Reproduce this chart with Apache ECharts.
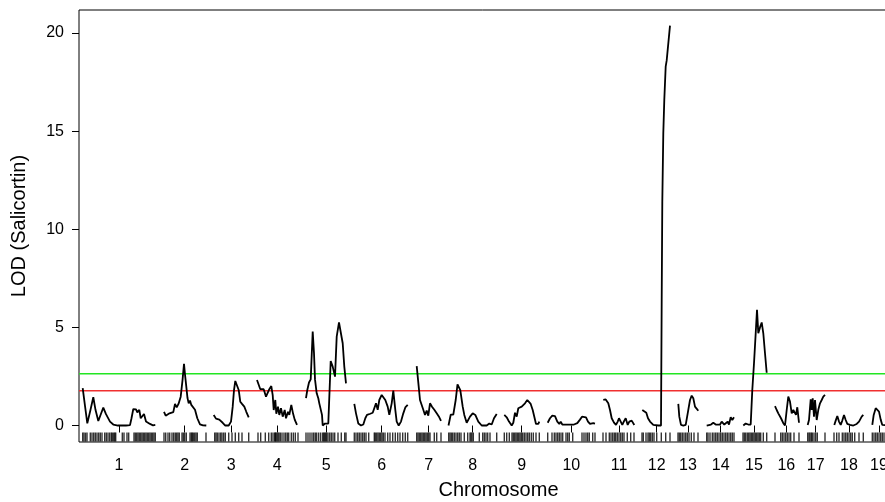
<!DOCTYPE html>
<html>
<head>
<meta charset="utf-8">
<title>LOD (Salicortin)</title>
<script src="https://cdn.jsdelivr.net/npm/echarts@6.0.0/dist/echarts.min.js"></script>
<style>
  html, body { margin: 0; padding: 0; background: #fff; }
  #chart { width: 885px; height: 502px; }
</style>
</head>
<body>
<div id="chart"></div>
<script>
// chromosome names and their mid positions on the genome axis
const chrNames = ['1', '2', '3', '4', '5', '6', '7', '8', '9', '10', '11', '12', '13', '14', '15', '16', '17', '18', '19']
const chrMid = [119, 184.7, 231.3, 277.3, 326.3, 381.7, 428.7, 472.7, 521.7, 571.3, 619, 656.7, 688, 720.7, 754, 786.3, 815.7, 849, 879]

// LOD profile per chromosome: [position, LOD]
const lod1 = [[82.7, 1.9], [85, 1.0], [87.3, 0.11], [90.5, 0.8], [93.3, 1.44], [95.5, 0.8], [98.3, 0.23], [101, 0.6], [103.3, 0.91], [106, 0.58], [107.7, 0.6], [110, 0.2], [113.3, 0.05], [118, 0], [122, 0.01], [126, 0], [130, 0.02], [131.5, 0.37], [133.3, 0.84], [136, 0.82], [137.3, 0.67], [139.3, 0.8], [140.7, 0.37], [144, 0.59], [146, 0.2], [150, 0.08], [153, 0.01], [155.3, 0.03]]
const lod2 = [[164, 0.7], [165.7, 0.5], [167.5, 0.45], [169.5, 0.62], [171.5, 0.55], [173.3, 0.68], [175, 1.1], [176.7, 0.92], [178.5, 1.1], [180.7, 1.47], [182.5, 2.3], [184, 3.14], [185, 2.6], [186.3, 1.98], [187.5, 1.4], [188.7, 1.13], [190, 1.27], [191.3, 1.05], [192.3, 1.15], [193.3, 0.95], [195, 0.8], [197.3, 0.37], [200, 0.06], [203, 0.01], [206.3, 0]]
const lod3 = [[213.7, 0.54], [216, 0.35], [218, 0.45], [219.3, 0.3], [221.3, 0.4], [222.7, 0.14], [225.3, 0], [228.7, 0], [231, 0.2], [232.7, 0.96], [234, 1.8], [235.3, 2.27], [237, 2.2], [238.7, 1.81], [240.3, 1.21], [242, 1.1], [244.3, 0.96], [246.3, 0.7], [248.7, 0.42]]
const lod4 = [[257, 2.32], [258.7, 2.35], [260.3, 1.85], [262, 1.82], [263.7, 1.85], [266, 1.47], [268, 1.7], [269.3, 1.85], [271.3, 2.01], [272.7, 1.55], [273.7, 0.79], [275.3, 1.3], [276.3, 0.6], [278, 0.96], [279.3, 0.54], [281, 0.88], [282.7, 0.45], [284.7, 0.79], [286, 0.37], [288, 0.7], [289.3, 0.54], [291.3, 1.05], [293, 0.62], [294.7, 0.3], [297, 0.03]]
const lod5 = [[306, 1.39], [307.3, 1.81], [309, 2.19], [310.7, 2.35], [311.7, 2.4], [312.7, 4.79], [314, 3.68], [315, 2.35], [316.7, 1.64], [318.3, 1.39], [319.3, 1.13], [320.7, 1.21], [322, 0.54], [322.7, 0], [325, 0.1], [326.7, 0], [328.3, 0.1], [330, 0], [330.7, 3.29], [332.7, 3.0], [335, 2.49], [336.7, 4.53], [339, 5.25], [340.7, 5.2], [342.7, 4.19], [344.3, 3.0], [346, 2.15]]
const lod6 = [[354.3, 1.1], [356, 0.62], [358.3, 0.1], [361, 0], [363.3, 0.05], [365.3, 0.37], [367, 0.54], [368.7, 0.45], [370.3, 0.6], [372.7, 0.65], [374.7, 0.65], [376, 1.13], [377.7, 0.8], [379.3, 1.3], [381.7, 1.56], [383.3, 1.6], [385.3, 1.3], [387.7, 0.96], [389.3, 0.54], [391.7, 1.13], [393.3, 1.78], [395.3, 0.8], [396.7, 0.2], [398.7, 0], [401, 0.2], [403.3, 0.62], [405.3, 0.92], [407.7, 1.05]]
const lod7 = [[416.7, 3.03], [418.7, 1.98], [420, 1.3], [421.7, 1.33], [423.3, 0.8], [425, 0.54], [426.7, 0.76], [428.3, 0.5], [430, 1.13], [432, 0.96], [434.3, 0.8], [436.7, 0.62], [439.3, 0.42], [441, 0.24]]
const lod8 = [[448.5, 0], [450.7, 0.55], [453.3, 0.55], [455.7, 1.3], [457.5, 2.1], [458.5, 2.15], [460.3, 1.8], [462.7, 0.96], [464.3, 0.54], [466.7, 0.14], [468, 0.2], [470, 0.45], [472.7, 0.62], [475.3, 0.54], [478.3, 0.2], [481.7, 0], [486.7, 0], [489.3, 0.1], [491.7, 0.05], [494, 0.37], [496.7, 0.59]]
const lod9 = [[504.3, 0.54], [506.7, 0.42], [509, 0.2], [511.7, 0], [513.3, 0.14], [515, 0.65], [516.7, 0.45], [518.3, 0.88], [520, 0.8], [521.7, 0.96], [523.3, 0.93], [525, 1.13], [527.3, 1.3], [529.3, 1.27], [530.7, 1.1], [532.7, 0.79], [534.3, 0.45], [536, 0.08], [538.3, 0.08], [539.3, 0.2]]
const lod10 = [[547.7, 0.14], [550, 0.37], [552.3, 0.5], [555, 0.48], [557.3, 0.2], [559.3, 0.08], [560.7, 0.2], [562.3, 0.05], [564, 0.08], [566, 0.05], [568, 0.12], [570.7, 0.05], [574, 0.05], [577.3, 0.12], [580, 0.3], [582, 0.45], [584, 0.54], [586, 0.42], [588, 0.2], [590, 0.08], [592, 0.04], [593.3, 0.12], [595, 0.1]]
const lod11 = [[603.3, 1.3], [605.7, 1.33], [608.3, 1.13], [610, 0.79], [611.7, 0.37], [614, 0.15], [616, 0.03], [617.7, 0.2], [619, 0.37], [620.7, 0.2], [622.3, 0.03], [624.3, 0.25], [625.7, 0.37], [627.7, 0.03], [629.3, 0.2], [631.7, 0.25], [634.3, 0.03]]
const lod12 = [[642.3, 0.79], [644, 0.88], [646.3, 0.65], [648, 0.37], [650, 0.2], [651.7, 0.28], [653.3, 0.03], [655, 0], [658.3, 0], [661, 0], [661.7, 6.4], [662.3, 11.4], [663.3, 14.9], [664.3, 16.6], [665.7, 18.3], [666.7, 18.6], [670, 20.37]]
const lod13 = [[678.3, 1.1], [679.3, 0.45], [681, 0.03], [683.3, 0], [685.7, 0.03], [687.7, 0.62], [690, 1.3], [691.7, 1.52], [693.3, 1.39], [695, 0.96], [698.3, 0.75]]
const lod14 = [[706.7, 0], [708.3, 0.1], [711, 0.05], [713.3, 0.14], [715.7, 0.05], [717.7, 0.14], [720, 0.05], [721.7, 0.2], [724.3, 0.05], [725.7, 0.14], [727.7, 0.2], [729, 0.05], [730.7, 0.42], [732.3, 0.28], [734, 0.42]]
const lod15 = [[743.3, 0], [745.7, 0.1], [748.3, 0.05], [750.7, 0.05], [752.3, 1.81], [754, 3.17], [755.7, 4.7], [757, 5.89], [758.3, 4.7], [760, 5.0], [761.7, 5.25], [763.3, 4.7], [765, 3.68], [766.7, 2.69]]
const lod16 = [[775, 0.99], [776.7, 0.79], [778.3, 0.62], [781, 0.37], [783.3, 0.12], [785, 0], [786.7, 0.79], [788.3, 1.47], [790, 1.22], [791.7, 0.62], [793.3, 0.79], [795, 0.88], [796, 0.54], [797.3, 0.93], [799, 0.14]]
const lod17 = [[807.7, 0.03], [809, 0.28], [810.7, 1.34], [811.7, 0.8], [812.7, 1.38], [814, 0.45], [815, 1.3], [816.7, 0.28], [818.3, 0.8], [820, 1.13], [821.7, 1.3], [823.3, 1.47], [825, 1.56]]
const lod18 = [[834.3, 0.03], [835.7, 0.25], [837.3, 0.48], [839, 0.2], [840.7, 0.03], [842.3, 0.25], [844, 0.54], [845.7, 0.28], [847.3, 0.08], [850, 0.03], [853.3, 0], [856.7, 0.08], [859, 0.2], [861.7, 0.45], [863.3, 0.54]]
const lod19 = [[872.3, 0.03], [873.7, 0.54], [875.7, 0.88], [877.3, 0.93], [879, 0.71], [880.7, 0.3], [882.3, 0.03], [884.3, 0], [886, 0.02]]

const lodByChr = [lod1, lod2, lod3, lod4, lod5, lod6, lod7, lod8, lod9, lod10, lod11, lod12, lod13, lod14, lod15, lod16, lod17, lod18, lod19]

// marker positions (rug)
const markers = [
  82.7, 84, 85.5, 87, 90.3, 92, 93.7, 95.3, 97, 98.7, 100.3, 102, 104.7, 106.3, 108, 109.7, 111.3, 112.3, 113.7, 114.7, 115.7, 122.3, 124, 127, 128.7, 134, 135.3, 136.7, 138, 139.3, 140.7, 142, 143.3, 144.7, 146, 147.3, 148.7, 150, 151.3, 152.7, 154, 155.3,
  164, 165.7, 168, 169.7, 172, 173.7, 175.3, 176.7, 178, 179.3, 182, 183.3, 184.7, 186.3, 190, 191.3, 192.3, 193.3, 194.7, 196, 197.3, 206,
  214.7, 216, 217.3, 219, 220.7, 222, 223.7, 225.3, 228.7, 232, 235.3, 238.7, 242, 248.7,
  258, 260.7, 265.3, 268.7, 271.3, 273, 274.7, 275.3, 276, 277, 278, 279, 280.3, 282, 284, 285.7, 287.3, 288.7, 291.3, 293.3, 295.3, 298,
  306, 308, 310, 312, 313.7, 315.3, 316.7, 318.7, 320.7, 322.7, 323.7, 324.7, 325.7, 326.7, 328, 329.7, 331.3, 333, 334.7, 338, 341.3, 344.7, 346,
  354.3, 356, 357.7, 359.3, 361, 362.7, 364.3, 366, 368.7, 374.3, 375.3, 376.7, 378, 379.3, 380.7, 382, 383.3, 385, 387.7, 390, 392.7, 395.3, 397.7, 400, 402.7, 405.3, 407.7,
  416.7, 418, 419.3, 420.7, 422, 423.3, 424.7, 426, 427.3, 428.7, 430, 434.3, 436.7, 441,
  448.7, 450, 451.3, 452.7, 454.3, 456, 457.7, 459.3, 461, 464.3, 467.7, 470, 471, 472, 473.3, 479.3, 482.7, 484.3, 486, 487.7, 490, 496.7,
  504.3, 506.7, 509.3, 512, 513.3, 514.7, 516, 517.3, 518.7, 520, 521.3, 522.7, 524.3, 526, 527.7, 529.3, 531.3, 533.3, 536, 539.3,
  547.7, 552, 554.3, 556, 557.7, 559.3, 561, 562.7, 566, 567.7, 569.3, 572.7, 582, 584, 586, 587.7, 589.3, 592.7, 595,
  603, 606, 609.3, 611, 612.7, 614.3, 615.7, 617.3, 619, 620.7, 622.3, 624, 627.3, 630.7, 634,
  642, 643.3, 646, 648, 649.3, 650.7, 652.3, 654, 656.7, 661.3, 665.7, 670,
  678, 679.3, 680.7, 682.3, 684, 685.7, 687.3, 689, 691.3, 694, 698,
  706.7, 708, 710, 712.3, 714, 715.7, 717.3, 719, 720.7, 722.3, 724, 725.7, 727.3, 729, 730.7, 732.3, 734,
  743, 744.3, 745.7, 747.3, 748.7, 750, 751.3, 752.7, 754, 755.3, 756.7, 758, 759.3, 760.7, 763.3, 766.7,
  775, 780.7, 782.3, 784, 785.7, 787.3, 789, 790.7, 794, 799,
  807.7, 809, 810, 811.3, 812.3, 814, 815.7, 817.3, 825,
  834, 836.7, 839, 842.3, 844, 845.7, 847.3, 849, 850.7, 852.3, 854.7, 859, 863.3,
  872.3, 874, 875.7, 877.3, 879, 880.7, 882.3, 884, 886
]

// significance thresholds
const thresholds = [2.64, 1.77]
const thresholdColors = ['#22e622', '#f03030']

const yTicks = [0, 5, 10, 15, 20]

const FONT = "'Liberation Sans', Arial, Helvetica, sans-serif"
const RUG_Y = -0.59
const X_MIN = 79
const X_MAX = 918

const chart = echarts.init(document.getElementById('chart'), null, { renderer: 'canvas' })

// one line per chromosome, so the profile breaks between them
const curveSeries = lodByChr.map((pts, i) => ({
  name: 'chr' + chrNames[i],
  type: 'line',
  data: pts,
  showSymbol: false,
  lineStyle: { color: '#000', width: 1.8 },
  z: 3
}))

// horizontal threshold lines across the full axis
const thresholdSeries = thresholds.map((t, i) => ({
  name: 'threshold' + i,
  type: 'line',
  data: [[X_MIN, t], [X_MAX, t]],
  showSymbol: false,
  silent: true,
  itemStyle: { color: thresholdColors[i] },
  lineStyle: { color: thresholdColors[i], width: 1.4 },
  z: 2
}))

const option = {
  animation: false,
  backgroundColor: '#fff',
  grid: {
    left: 79,
    right: -33,
    top: 10,
    bottom: 60,
    outerBoundsMode: 'none',
    containLabel: false,
    show: true,
    borderColor: '#000',
    borderWidth: 1
  },
  xAxis: {
    type: 'value',
    min: X_MIN,
    max: X_MAX,
    name: 'Chromosome',
    nameLocation: 'middle',
    nameGap: 38,
    nameTextStyle: { fontFamily: FONT, fontSize: 20, color: '#000' },
    axisLine: { show: false },
    splitLine: { show: false },
    axisTick: { show: true, customValues: chrMid, length: 7, lineStyle: { color: '#000' } },
    axisLabel: {
      customValues: chrMid,
      margin: 16,
      fontFamily: FONT,
      fontSize: 16,
      color: '#000',
      formatter: v => chrNames[chrMid.indexOf(v)]
    }
  },
  yAxis: {
    type: 'value',
    min: -0.84,
    max: 21.17,
    name: 'LOD (Salicortin)',
    nameLocation: 'middle',
    nameGap: 50,
    nameTextStyle: { fontFamily: FONT, fontSize: 20, color: '#000' },
    axisLine: { show: false },
    splitLine: { show: false },
    axisTick: { show: true, customValues: yTicks, length: 7, lineStyle: { color: '#000' } },
    axisLabel: {
      customValues: yTicks,
      margin: 15,
      fontFamily: FONT,
      fontSize: 16,
      color: '#000'
    }
  },
  series: [
    ...thresholdSeries,
    ...curveSeries,
    {
      name: 'markers',
      type: 'scatter',
      data: markers.map(m => [m, RUG_Y]),
      symbol: 'rect',
      symbolSize: [1.4, 9],
      itemStyle: { color: '#000' },
      silent: true,
      z: 3
    }
  ]
}

chart.setOption(option)
</script>
</body>
</html>
